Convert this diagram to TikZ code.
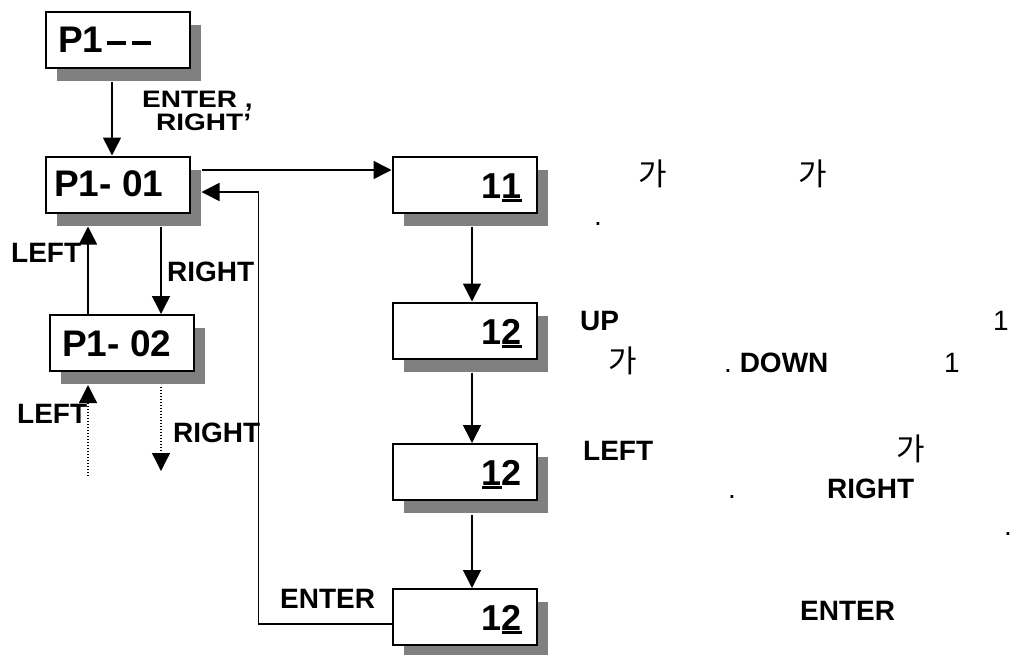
\documentclass[tikz,border=0pt]{standalone}
\usepackage{fontspec}
\usepackage{graphicx}
\setmainfont{Liberation Sans}
\newfontfamily\krf{Noto Sans CJK KR}
\usetikzlibrary{arrows.meta,shadows,calc}
\newcommand\ulx[1]{\setbox0\hbox{#1}\rlap{\rule[-3.6pt]{\wd0}{2.8pt}}#1}
\newcommand\bardash{\rule[7pt]{19pt}{4.5pt}}
\begin{document}
\begin{tikzpicture}[x=1pt,y=-1pt,
  box/.style={draw,line width=2pt,fill=white,minimum width=144pt,minimum height=56pt,inner sep=0pt,
    drop shadow={shadow xshift=11pt,shadow yshift=-13pt,fill=gray,opacity=1}},
  big/.style={inner sep=0pt,anchor=base west,font=\fontsize{37}{37}\selectfont\bfseries},
  num/.style={inner sep=0pt,anchor=base east,font=\fontsize{36}{36}\selectfont\bfseries},
  lab/.style={inner sep=0pt,anchor=base west,font=\fontsize{28}{28}\selectfont\bfseries},
  txt/.style={inner sep=0pt,anchor=base west,font=\fontsize{28}{28}\selectfont},
  kr/.style={inner sep=0pt,anchor=base west,font=\fontsize{31}{31}\krf},
  arr/.style={line width=1.5pt,-{Triangle[length=18pt,width=18pt]}},
  dots/.style={arr,line width=1.3pt,dash pattern=on 1.3pt off 1.7pt}
]
\fill[white] (0,0) rectangle (1012,654);
\useasboundingbox (0,0) rectangle (1012,654);
% boxes
\node[box] (b0) at (117.5,40) {};
\node[box] (b1) at (117.5,184.5) {};
\node[box] (b2) at (121.5,343) {};
\node[box] (b11) at (464.5,184.5) {};
\node[box] (b12a) at (464.5,330.5) {};
\node[box] (b12b) at (464.5,472) {};
\node[box] (b12c) at (464.5,617) {};
% box texts
\node[big] (t0) at (58,52) {P1\hspace{4pt}\bardash\hspace{6pt}\bardash};
\node[big] (t1) at (54,196) {P1- 01};
\node[big] (t2) at (62,356) {P1- 02};
\node[num] (n11) at (522,198) {1\ulx{1}};
\node[num] (n12a) at (522,344) {1\ulx{2}};
\node[num] (n12b) at (522,485) {\ulx{1}2};
\node[num] (n12c) at (522,630) {1\ulx{2}};
% arrows
\draw[arr] ([xshift=-5.5pt,yshift=-13pt]b0.south) -- ([xshift=-5.5pt]b1.north);
\draw[arr] ([xshift=11pt,yshift=14.5pt]b1.east) -- ([yshift=14.5pt]b11.west);
\coordinate (rx) at (258.5,400);
\draw[arr] ([yshift=-7pt]b12c.west) -| (rx) |- ([xshift=11pt,yshift=-7.5pt]b1.east);
\draw[arr] ([xshift=43.5pt,yshift=-13pt]b1.south) -- ([xshift=39.5pt]b2.north);
\draw[arr] ([xshift=-33.5pt]b2.north) -- ([xshift=-29.5pt,yshift=-13pt]b1.south);
\coordinate (d1) at (88,476);
\coordinate (d2) at (161,471);
\draw[dots] (d1) -- ([xshift=-33.5pt,yshift=-13pt]b2.south);
\draw[dots] ([xshift=39.5pt,yshift=-15pt]b2.south) -- (d2);
\draw[arr] ([xshift=7.5pt,yshift=-13pt]b11.south) -- ([xshift=7.5pt]b12a.north);
\draw[arr] ([xshift=7.5pt,yshift=-13pt]b12a.south) -- ([xshift=7.5pt]b12b.north);
\draw[arr] ([xshift=7.5pt,yshift=-14pt]b12b.south) -- ([xshift=7.5pt]b12c.north);
% left labels
\node[lab] (l0a) at (142,107) {\scalebox{1}[0.85]{ENTER ,}};
\node[lab] (l0b) at (156,130) {\scalebox{1}[0.85]{RIGHT’}};
\node[lab] (l1) at (11,262) {LEFT};
\node[lab] (l2) at (167,281) {RIGHT};
\node[lab] (l3) at (17,423) {LEFT};
\node[lab] (l4) at (173,442) {RIGHT};
\node[lab] (l5) at (280,608) {ENTER};
% right description texts
\node[kr] (k1) at (638,185) {가};
\node[kr] (k2) at (798,185) {가};
\node[txt] (p1) at (594,225) {.};
\node[lab] (u1) at (580,330) {UP};
\node[txt] (o1) at (993,330) {1};
\node[kr] (k3) at (608,372) {가};
\node[lab] (u2) at (724,372) {\mdseries.\ \bfseries DOWN};
\node[txt] (o2) at (944,372) {1};
\node[lab] (u3) at (583,460) {LEFT};
\node[kr] (k4) at (896,460) {가};
\node[txt] (p2) at (728,498) {.};
\node[lab] (u4) at (827,498) {RIGHT};
\node[txt] (p3) at (1004,535) {.};
\node[lab] (u5) at (800,620) {ENTER};
\end{tikzpicture}
\end{document}
